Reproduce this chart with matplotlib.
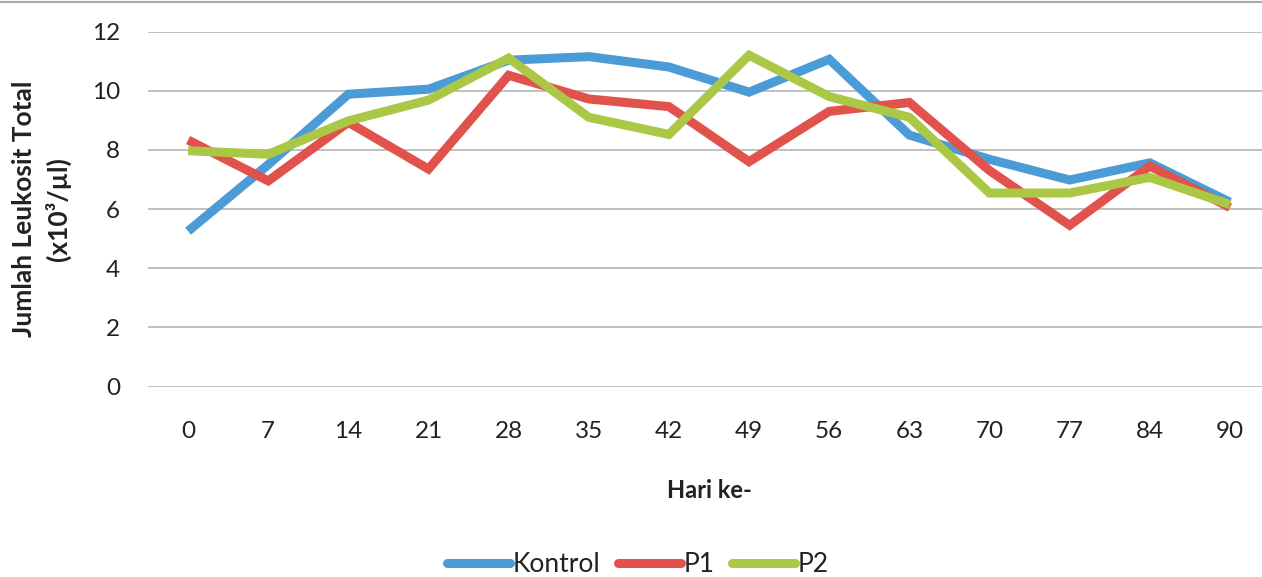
import matplotlib
matplotlib.use("Agg")
import matplotlib.pyplot as plt
from matplotlib.lines import Line2D

days = ["0", "7", "14", "21", "28", "35", "42", "49", "56", "63", "70", "77", "84", "90"]
kontrol = [5.25, 7.5, 9.88, 10.05, 11.03, 11.15, 10.8, 9.95, 11.06, 8.5, 7.68, 6.98, 7.56, 6.23]
p1 = [8.33, 6.95, 8.93, 7.35, 10.52, 9.72, 9.46, 7.6, 9.3, 9.6, 7.3, 5.45, 7.45, 6.05]
p2 = [7.97, 7.85, 8.98, 9.68, 11.1, 9.1, 8.52, 11.2, 9.8, 9.1, 6.54, 6.54, 7.07, 6.15]
yticks = [0, 2, 4, 6, 8, 10, 12]

plt.rcParams['font.family'] = ['Lato', 'DejaVu Sans']

fig = plt.figure(figsize=(12.62, 5.77), dpi=100)
ax = fig.add_axes([148/1262, 1-386.5/577, (1270-148)/1262, (386.5-31.5)/577])

x = list(range(len(days)))
c_blue = "#4A9BD6"
c_red = "#E1524C"
c_green = "#AAC845"
lw = 6.5
ax.plot(x, kontrol, color=c_blue, lw=lw, solid_joinstyle='miter', solid_capstyle='butt', label="Kontrol", zorder=3)
ax.plot(x, p1, color=c_red, lw=lw, solid_joinstyle='miter', solid_capstyle='butt', label="P1", zorder=4)
ax.plot(x, p2, color=c_green, lw=lw, solid_joinstyle='miter', solid_capstyle='butt', label="P2", zorder=5)

ax.set_xlim(-0.5, len(days) - 0.5)
ax.set_ylim(0, 12)
ax.set_yticks(yticks)
ax.set_yticklabels([str(v) for v in yticks])
ax.set_xticks(x)
ax.set_xticklabels(days)
ax.grid(axis='y', color='#BBBBBB', lw=1.3)
ax.set_axisbelow(True)
for s in ax.spines.values():
    s.set_visible(False)
ax.tick_params(axis='both', length=0, labelsize=17.5, colors='#222222')
ax.tick_params(axis='y', pad=20)
ax.tick_params(axis='x', pad=25)

fig.text(24/1262, 1-209/577, "Jumlah Leukosit Total", rotation=90, ha='center', va='center',
         fontsize=19, fontweight='bold', color='#222222')
fig.text(58/1262, 1-209/577, "(x10³/µl)", rotation=90, ha='center', va='center',
         fontsize=19, fontweight='bold', color='#222222')
fig.text(709/1262, 1-490/577, "Hari ke-", ha='center', va='center',
         fontsize=17, fontweight='bold', color='#222222')

handles = [Line2D([0], [0], color=c_blue, lw=lw, solid_capstyle='round'),
           Line2D([0], [0], color=c_red, lw=lw, solid_capstyle='round'),
           Line2D([0], [0], color=c_green, lw=lw, solid_capstyle='round')]
fig.legend(handles, ["Kontrol", "P1", "P2"], loc='center', bbox_to_anchor=(638/1262, 1-565/577),
           ncol=3, frameon=False, fontsize=19, handlelength=2.4, handletextpad=0.1,
           columnspacing=0.65, labelcolor='#222222', borderaxespad=0, borderpad=0)

fig.add_artist(Line2D([0, 1], [1-1.5/577, 1-1.5/577], color='#AAAAAA', lw=1.5, transform=fig.transFigure))

fig.savefig("out.png", dpi=100)
